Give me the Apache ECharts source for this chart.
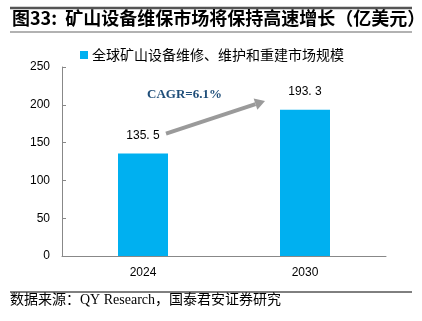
<!DOCTYPE html>
<html><head><meta charset="utf-8">
<script src="https://cdn.jsdelivr.net/npm/echarts@6/dist/echarts.min.js"></script>
<style>html,body{margin:0;padding:0;background:#fff}#c{width:422px;height:321px}</style>
</head><body><div id="c"></div>
<script>
const categories = ['2024', '2030'];
const values = [135.5, 193.3];
const seriesName = '全球矿山设备维修、维护和重建市场规模';
const yTicks = [0, 50, 100, 150, 200, 250];
const cagrText = 'CAGR=6.1%';
const titleText = '图33:  矿山设备维保市场将保持高速增长（亿美元）';
const sourceText = '数据来源：QY Research，国泰君安证券研究';
const arrowFrom = ['2024', 162];
const arrowTo = ['2030', 205];

const chart = echarts.init(document.getElementById('c'), null, {renderer: 'canvas'});
const cjk = '"Noto Sans CJK SC", sans-serif';
const serif = '"Liberation Serif", "Noto Sans CJK SC", serif';
const opt = {
  animation: false,
  grid: {left: 62, right: 36, top: 67, bottom: 65},
  legend: {
    left: 75, top: 43, itemWidth: 8, itemHeight: 8, icon: 'rect', itemGap: 4,
    textStyle: {fontFamily: cjk, fontSize: 14, color: '#000', padding: [0, 0, 0, -1]},
    data: [seriesName]
  },
  xAxis: {
    type: 'category', data: categories,
    axisLine: {lineStyle: {color: '#888', width: 1}},
    axisTick: {inside: true, length: 4, lineStyle: {color: '#888'}},
    axisLabel: {color: '#000', fontSize: 12, fontFamily: 'Liberation Sans, Arial', margin: 11}
  },
  yAxis: {
    type: 'value', min: yTicks[0], max: yTicks[yTicks.length - 1], interval: 50,
    splitLine: {show: false},
    axisLine: {show: true, lineStyle: {color: '#888', width: 1}},
    axisTick: {show: true, inside: true, length: 4, lineStyle: {color: '#888'}},
    axisLabel: {color: '#000', fontSize: 12, fontFamily: 'Liberation Sans, Arial', margin: 12}
  },
  series: [{
    name: seriesName, type: 'bar', data: values, barWidth: 50,
    itemStyle: {color: '#00B0F0'},
    label: {
      show: true, position: 'top', distance: 12, color: '#000', fontSize: 12,
      fontFamily: 'Liberation Sans, Arial',
      formatter: p => p.value.toFixed(1).replace('.', '. ')
    }
  }],
  graphic: [
    {type: 'line', shape: {x1: 10, y1: 8, x2: 412, y2: 8}, style: {stroke: '#555', lineWidth: 2.5}},
    {type: 'text', left: 12, top: 9, style: {text: titleText, font: '600 18px ' + cjk, fill: '#000'}},
    {type: 'line', shape: {x1: 10, y1: 32, x2: 412, y2: 32}, style: {stroke: '#999', lineWidth: 1.5}},
    {type: 'line', shape: {x1: 10, y1: 292, x2: 412, y2: 292}, style: {stroke: '#000', lineWidth: 1}},
    {type: 'text', left: 10, top: 293, style: {text: sourceText, font: '14px ' + serif, fill: '#000'}}
  ]
};
chart.setOption(opt);

const p1 = chart.convertToPixel({gridIndex: 0}, arrowFrom);
const p2 = chart.convertToPixel({gridIndex: 0}, arrowTo);
const a = [p1[0] + 23, p1[1]];
const b = [p2[0] - 40, p2[1]];
const ang = Math.atan2(b[1] - a[1], b[0] - a[0]);
const hl = 10, hw = 6;
const base = [b[0] - hl * Math.cos(ang), b[1] - hl * Math.sin(ang)];
const nx = -Math.sin(ang), ny = Math.cos(ang);
chart.setOption({
  graphic: opt.graphic.concat([
    {type: 'line', shape: {x1: a[0], y1: a[1], x2: base[0], y2: base[1]}, style: {stroke: '#9a9a9a', lineWidth: 4}},
    {type: 'polygon', shape: {points: [[b[0], b[1]], [base[0] + nx * hw, base[1] + ny * hw], [base[0] - nx * hw, base[1] - ny * hw]]}, style: {fill: '#9a9a9a'}},
    {type: 'text', x: a[0] - 19, y: b[1] - 13, style: {text: cagrText, font: 'bold 13px ' + serif, fill: '#1F4E79'}}
  ])
});
</script></body></html>
